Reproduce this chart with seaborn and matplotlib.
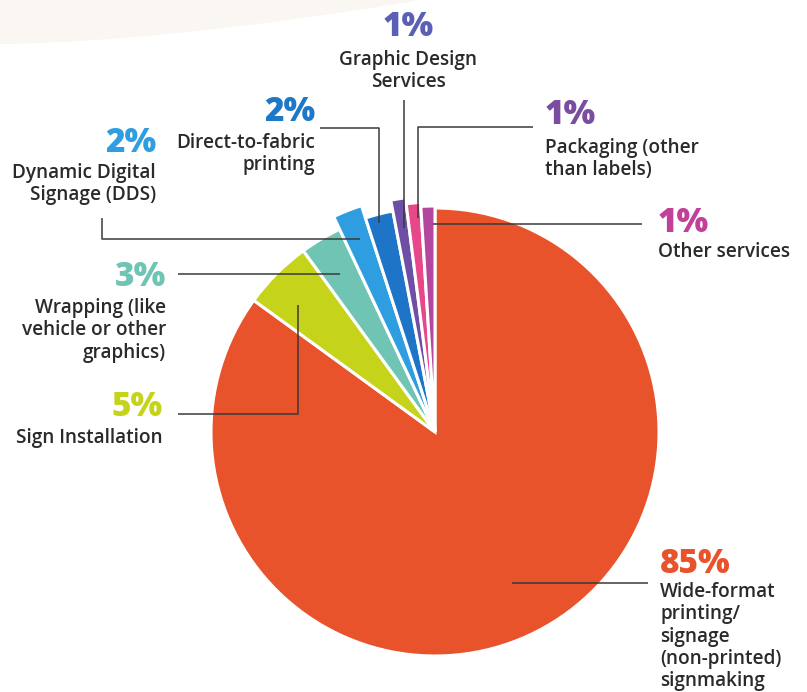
import matplotlib
matplotlib.use("Agg")
import matplotlib.pyplot as plt
from matplotlib.patches import Polygon
import numpy as np
import seaborn as sns

# Share of revenue by service line
categories = [
    "Wide-format printing/signage (non-printed) signmaking",
    "Sign Installation",
    "Wrapping (like vehicle or other graphics)",
    "Dynamic Digital Signage (DDS)",
    "Direct-to-fabric printing",
    "Graphic Design Services",
    "Packaging (other than labels)",
    "Other services",
]
shares = [85, 5, 3, 2, 2, 1, 1, 1]
label_lines = [
    ["Wide-format", "printing/", "signage", "(non-printed)", "signmaking"],
    ["Sign Installation"],
    ["Wrapping (like", "vehicle or other", "graphics)"],
    ["Dynamic Digital", "Signage (DDS)"],
    ["Direct-to-fabric", "printing"],
    ["Graphic Design", "Services"],
    ["Packaging (other", "than labels)"],
    ["Other services"],
]

slice_colors = sns.color_palette([
    "#e8532b", "#c5d41a", "#6fc4b3", "#2e9ee0",
    "#1e74c6", "#6e4fa6", "#e8478a", "#b3469f",
])
number_colors = [
    "#e8532b", "#c5d41a", "#6fc4b3", "#2e9ee0",
    "#1e78c8", "#5b5fb5", "#7a4da0", "#c0409a",
]

sns.set_theme(style="white")
plt.rcParams["font.family"] = ["Open Sans", "DejaVu Sans"]

W, H = 807, 692
fig = plt.figure(figsize=(W / 100, H / 100), dpi=100)
ax = fig.add_axes([0, 0, 1, 1])

# faint decorative swoosh in the top-left corner
xs = np.linspace(0, 420, 60)
ys = 44 - 44 * (xs / 420) ** 1.6
ax.add_patch(Polygon(np.column_stack([np.r_[xs, 420, 0], np.r_[ys, 0, 0]]),
                     closed=True, facecolor="#faf6f1", edgecolor="none", zorder=0))

cx, cy = 435, 432
radii = [224, 224, 224, 238, 225, 236, 230, 226]
wedges, _ = ax.pie(
    shares, colors=slice_colors, startangle=-90, counterclock=True,
    center=(cx, cy), radius=224, frame=True,
    wedgeprops=dict(edgecolor="white", linewidth=2.2),
)
for w, r in zip(wedges, radii):
    w.set_radius(r)
ax.set_xlim(0, W)
ax.set_ylim(H, 0)
ax.set_aspect("equal")
ax.axis("off")

line_kw = dict(color="#3a3a3a", lw=1.1, zorder=5, solid_capstyle="butt")
leaders = [
    ([512, 648], [583, 583]),
    ([178, 298, 298], [414, 414, 305]),
    ([178, 340], [274, 274]),
    ([102, 102, 360], [218, 239, 239]),
    ([320, 379, 379], [128, 128, 223]),
    ([404, 404], [100, 228]),
    ([533, 418, 418], [127, 127, 218]),
    ([433, 642], [224, 224]),
]
for xs_, ys_ in leaders:
    ax.plot(xs_, ys_, **line_kw)

# (x, baseline of number, baseline of first label line, alignment)
anchors = [
    (660, 573, 597, "left"),
    (163, 416, 443, "right"),
    (166, 286, 313, "right"),
    (156, 152, 178, "right"),
    (315, 121, 148, "right"),
    (408, 36, 65, "center"),
    (545, 124, 153, "left"),
    (658, 232, 257, "left"),
]
num_size = 24
lab_size = 13.7
step = 22.3
for share, lines, col, (x, yn, yl, ha) in zip(shares, label_lines, number_colors, anchors):
    ax.text(x, yn, f"{share}%", ha=ha, va="baseline", fontsize=num_size,
            fontweight="heavy", color=col)
    for i, ln in enumerate(lines):
        ax.text(x, yl + i * step, ln, ha=ha, va="baseline",
                fontsize=lab_size, fontweight="semibold", color="#2a2a2a")

fig.savefig("out.png", dpi=100, facecolor="white")
